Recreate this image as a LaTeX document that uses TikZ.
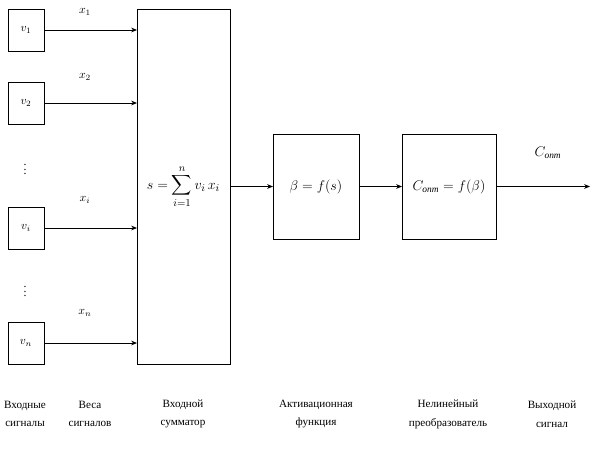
\documentclass[tikz,border=0pt]{standalone}
\usepackage{amsmath}
\usepackage{fontspec}
\setmainfont{Liberation Serif}
\usetikzlibrary{arrows.meta,positioning}

\tikzset{
  blk/.style={draw, line width=0.7pt, inner sep=0pt, outer sep=0pt},
  inbox/.style={blk, minimum width=1.08cm, minimum height=1.26cm},
  sig/.style={line width=0.7pt, -{Stealth[length=5pt,width=4pt]}},
  caption/.style={align=center, font=\fontsize{9.5}{16}\selectfont}
}

\begin{document}
\begin{tikzpicture}[x=0.03cm, y=-0.03cm]
  \useasboundingbox (0,0) rectangle (598,449);

  % Input signals
  \node[inbox] (v1) at (26,30)  {$v_1$};
  \node[inbox] (v2) at (26,103) {$v_2$};
  \node[inbox] (vi) at (26,228) {$v_i$};
  \node[inbox] (vn) at (26,343) {$v_n$};
  \node (dotsA) at (25,166) {$\vdots$};
  \node (dotsB) at (25,288) {$\vdots$};

  % Summator and the two blocks
  \node[blk, minimum width=2.79cm, minimum height=10.65cm,
        font=\fontsize{13}{15}\selectfont] (sum) at (183.5,186.5)
       {$\displaystyle s=\sum_{i=1}^{n} v_i\, x_i$};
  \node[blk, minimum width=2.58cm, minimum height=3.15cm,
        font=\fontsize{11.5}{14}\selectfont] (act) at (316,186.5)
       {$\beta=f(s)$};
  \node[blk, minimum width=2.82cm, minimum height=3.15cm,
        font=\fontsize{11.5}{14}\selectfont] (conv) at (449,186.5)
       {$C_{\text{\itshape опт}}=f(\beta)$};
  \coordinate (out) at (590,186.5);

  % Arrows
  \foreach \v in {v1,v2,vi,vn}
    \draw[sig] (\v.east) -- (\v.east -| sum.west);
  \draw[sig] (sum.east |- act.west) -- (act.west);
  \draw[sig] (act.east) -- (conv.west);
  \draw[sig] (conv.east) -- (out);

  % Labels
  \node (x1) at (85,12)  {$x_1$};
  \node (x2) at (85,77)  {$x_2$};
  \node (xi) at (85,200) {$x_i$};
  \node (xn) at (85,313) {$x_n$};
  \node (cout) at (548,153) {\large $C_{\text{\itshape опт}}$};

  \node[caption] (l1) at (25,414)  {Входные\\сигналы};
  \node[caption] (l2) at (90,414)  {Веса\\сигналов};
  \node[caption] (l3) at (183,414) {Входной\\сумматор};
  \node[caption] (l4) at (316,414) {Активационная\\функция};
  \node[caption] (l5) at (448,414) {Нелинейный\\преобразователь};
  \node[caption] (l6) at (552,414) {Выходной\\сигнал};
\end{tikzpicture}
\end{document}
